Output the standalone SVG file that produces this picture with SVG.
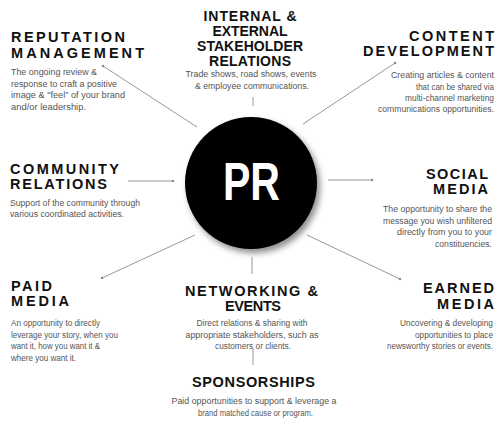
<svg xmlns="http://www.w3.org/2000/svg" width="500" height="427" viewBox="0 0 500 427">
<defs>
<style>
.h{font-family:"Liberation Sans",Arial,sans-serif;font-weight:bold;font-size:14.5px;fill:#111}
.hc{font-family:"Liberation Sans",Arial,sans-serif;font-weight:bold;font-size:14px;fill:#111}
.b{font-family:"Liberation Sans",Arial,sans-serif;font-size:8.3px;fill:#555}
.c line{stroke:#999;stroke-width:1}
.c circle{fill:#888}
</style>
<filter id="sh" x="-20%" y="-20%" width="150%" height="150%">
<feDropShadow dx="3" dy="4" stdDeviation="3" flood-color="#000" flood-opacity="0.45"/>
</filter>
</defs>
<rect width="500" height="427" fill="#fff"/>
<g class="c" id="connectors">
<line x1="103" y1="66" x2="197" y2="127"/><circle cx="103" cy="66" r="1.2"/>
<line x1="253" y1="97" x2="253" y2="106"/>
<line x1="395" y1="63" x2="303" y2="124"/><circle cx="395" cy="63" r="1.2"/>
<line x1="128" y1="181" x2="173" y2="181"/><circle cx="173" cy="181" r="1.2"/>
<line x1="328" y1="180" x2="372" y2="180"/><circle cx="372" cy="180" r="1.2"/>
<line x1="102" y1="278" x2="195" y2="235"/><circle cx="102" cy="278" r="1.2"/>
<line x1="307" y1="235" x2="400" y2="279"/><circle cx="400" cy="279" r="1.2"/>
<line x1="252" y1="257" x2="252" y2="274"/>
<line x1="253" y1="348" x2="253" y2="365"/>
</g>
<g id="pr">
<circle cx="251" cy="183" r="66" fill="#000" filter="url(#sh)"/>
<text x="223" y="200" font-family="'Liberation Sans',Arial,sans-serif" font-weight="bold" font-size="53" fill="#fff" textLength="57" lengthAdjust="spacingAndGlyphs">PR</text>
</g>
<g id="reputation">
<text class="h" x="11" y="42" textLength="114" lengthAdjust="spacing">REPUTATION</text>
<text class="h" x="11" y="57.5" textLength="133" lengthAdjust="spacing">MANAGEMENT</text>
<text class="b" x="11" y="75" textLength="86" lengthAdjust="spacingAndGlyphs">The ongoing review &amp;</text>
<text class="b" x="11" y="86.5" textLength="106" lengthAdjust="spacingAndGlyphs">response to craft a positive</text>
<text class="b" x="11" y="98" textLength="114" lengthAdjust="spacingAndGlyphs">image &amp; "feel" of your brand</text>
<text class="b" x="11" y="109.5" textLength="75" lengthAdjust="spacingAndGlyphs">and/or leadership.</text>
</g>
<g id="stakeholder">
<text class="hc" x="203.5" y="21" textLength="93" lengthAdjust="spacing">INTERNAL &amp;</text>
<text class="hc" x="212.5" y="36" textLength="75" lengthAdjust="spacing">EXTERNAL</text>
<text class="hc" x="197" y="51" textLength="106" lengthAdjust="spacing">STAKEHOLDER</text>
<text class="hc" x="209" y="66" textLength="82" lengthAdjust="spacing">RELATIONS</text>
<text class="b" x="185.5" y="77" textLength="131" lengthAdjust="spacingAndGlyphs">Trade shows, road shows, events</text>
<text class="b" x="195" y="88.5" textLength="114" lengthAdjust="spacingAndGlyphs">&amp; employee communications.</text>
</g>
<g id="content">
<text class="h" x="409" y="41" textLength="85" lengthAdjust="spacing">CONTENT</text>
<text class="h" x="363" y="56" textLength="131" lengthAdjust="spacing">DEVELOPMENT</text>
<text class="b" x="391" y="78" textLength="103" lengthAdjust="spacingAndGlyphs">Creating articles &amp; content</text>
<text class="b" x="416" y="89.5" textLength="78" lengthAdjust="spacingAndGlyphs">that can be shared via</text>
<text class="b" x="405" y="101" textLength="89" lengthAdjust="spacingAndGlyphs">multi-channel marketing</text>
<text class="b" x="378" y="112" textLength="116" lengthAdjust="spacingAndGlyphs">communications opportunities.</text>
</g>
<g id="community">
<text class="h" x="10" y="174" textLength="109" lengthAdjust="spacing">COMMUNITY</text>
<text class="h" x="10" y="189" textLength="97" lengthAdjust="spacing">RELATIONS</text>
<text class="b" x="10" y="206" textLength="130" lengthAdjust="spacingAndGlyphs">Support of the community through</text>
<text class="b" x="10" y="217" textLength="114" lengthAdjust="spacingAndGlyphs">various coordinated activities.</text>
</g>
<g id="social">
<text class="h" x="426" y="179" textLength="62" lengthAdjust="spacing">SOCIAL</text>
<text class="h" x="433" y="194" textLength="55" lengthAdjust="spacing">MEDIA</text>
<text class="b" x="383" y="212" textLength="109" lengthAdjust="spacingAndGlyphs">The opportunity to share the</text>
<text class="b" x="383" y="223.5" textLength="109" lengthAdjust="spacingAndGlyphs">message you wish unfiltered</text>
<text class="b" x="397" y="235" textLength="95" lengthAdjust="spacingAndGlyphs">directly from you to your</text>
<text class="b" x="435" y="246.5" textLength="57" lengthAdjust="spacingAndGlyphs">constituencies.</text>
</g>
<g id="paid">
<text class="h" x="11" y="291" textLength="41" lengthAdjust="spacing">PAID</text>
<text class="h" x="11" y="306" textLength="58" lengthAdjust="spacing">MEDIA</text>
<text class="b" x="11" y="326" textLength="89" lengthAdjust="spacingAndGlyphs">An opportunity to directly</text>
<text class="b" x="11" y="337.5" textLength="107" lengthAdjust="spacingAndGlyphs">leverage your story, when you</text>
<text class="b" x="11" y="349" textLength="89" lengthAdjust="spacingAndGlyphs">want it, how you want it &amp;</text>
<text class="b" x="11" y="360.5" textLength="65" lengthAdjust="spacingAndGlyphs">where you want it.</text>
</g>
<g id="networking">
<text class="h" x="185" y="296" textLength="133" lengthAdjust="spacing">NETWORKING &amp;</text>
<text class="h" x="225" y="311" textLength="56" lengthAdjust="spacing">EVENTS</text>
<text class="b" x="196.5" y="326" textLength="111" lengthAdjust="spacingAndGlyphs">Direct relations &amp; sharing with</text>
<text class="b" x="185.5" y="337.5" textLength="133" lengthAdjust="spacingAndGlyphs">appropriate stakeholders, such as</text>
<text class="b" x="215" y="349" textLength="76" lengthAdjust="spacingAndGlyphs">customers or clients.</text>
</g>
<g id="sponsorships">
<text class="h" x="192" y="387" textLength="123" lengthAdjust="spacing">SPONSORSHIPS</text>
<text class="b" x="171.5" y="404" textLength="165" lengthAdjust="spacingAndGlyphs">Paid opportunities to support &amp; leverage a</text>
<text class="b" x="198" y="415.5" textLength="115" lengthAdjust="spacingAndGlyphs">brand matched cause or program.</text>
</g>
<g id="earned">
<text class="h" x="423" y="293" textLength="71" lengthAdjust="spacing">EARNED</text>
<text class="h" x="437" y="309" textLength="57" lengthAdjust="spacing">MEDIA</text>
<text class="b" x="400" y="326" textLength="93" lengthAdjust="spacingAndGlyphs">Uncovering &amp; developing</text>
<text class="b" x="415" y="338" textLength="78" lengthAdjust="spacingAndGlyphs">opportunities to place</text>
<text class="b" x="387" y="349" textLength="106" lengthAdjust="spacingAndGlyphs">newsworthy stories or events.</text>
</g>
</svg>
